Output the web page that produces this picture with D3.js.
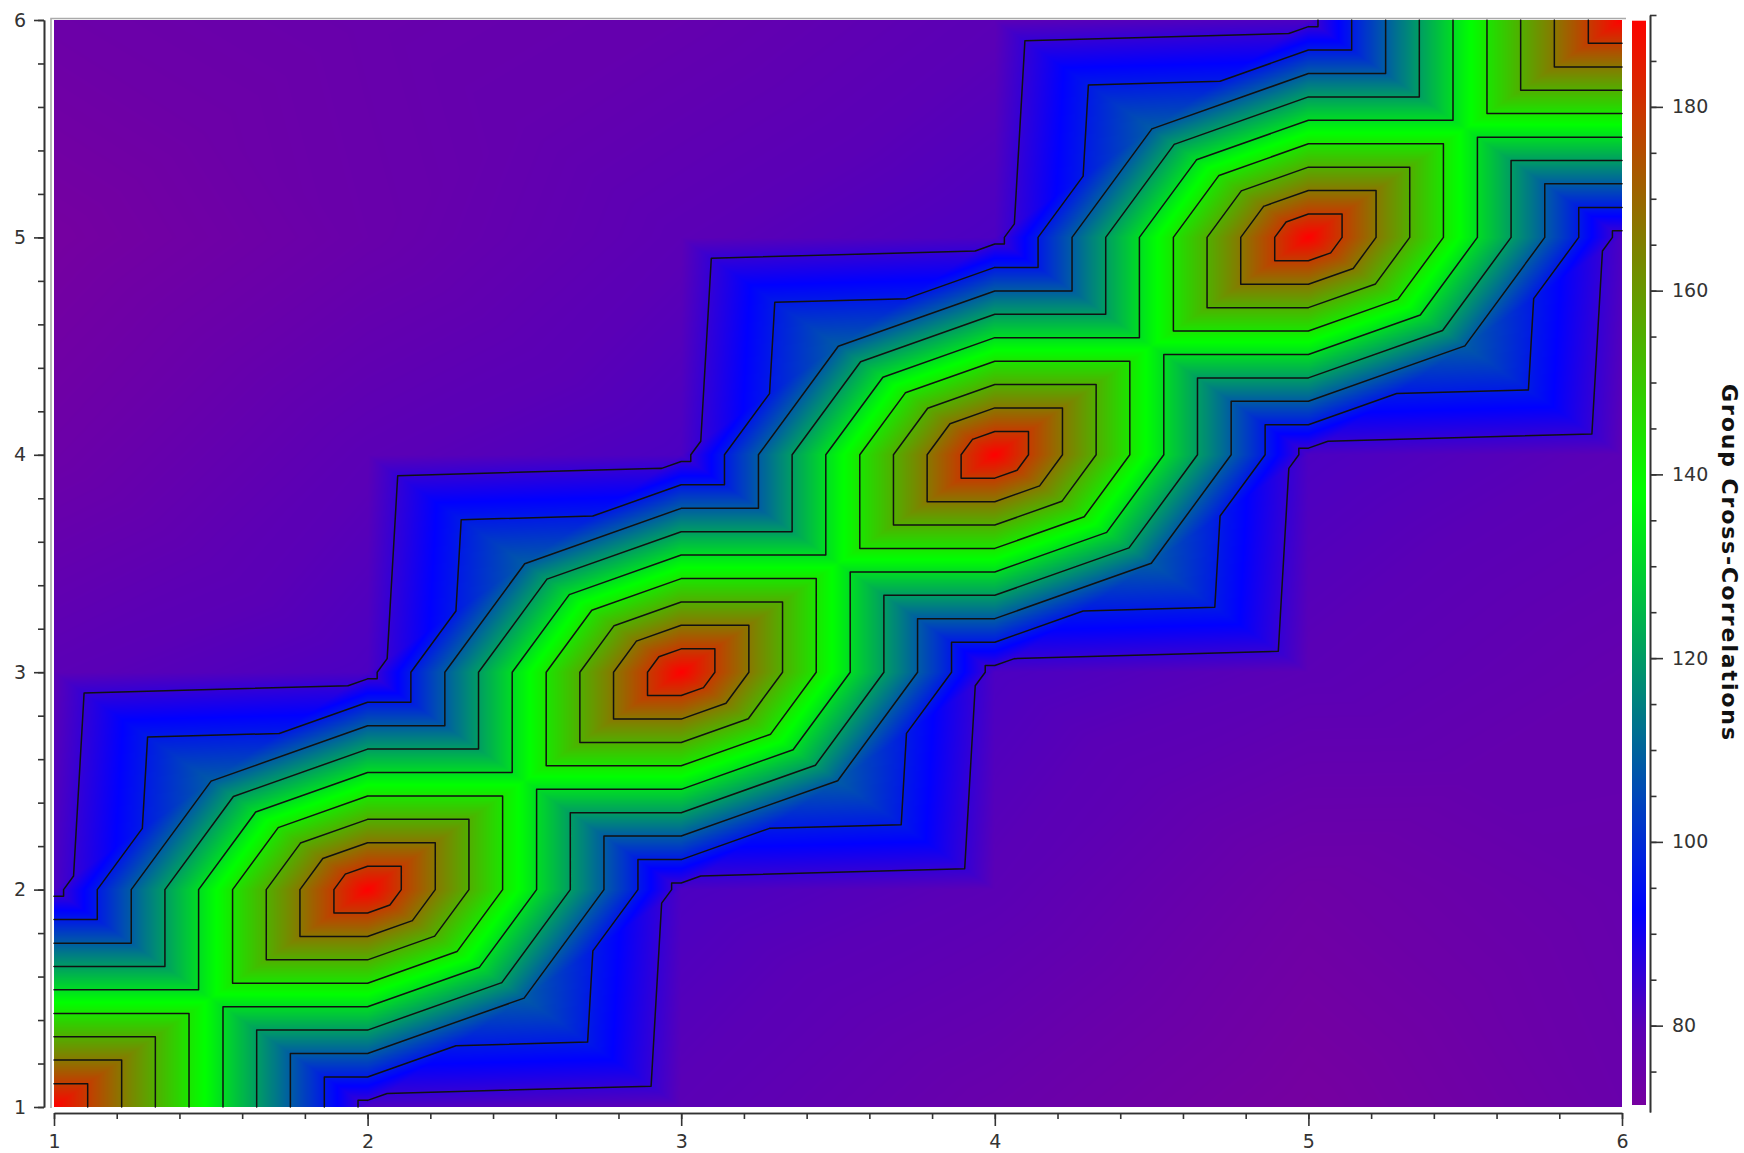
<!DOCTYPE html>
<html>
<head>
<meta charset="utf-8">
<script src="https://cdn.jsdelivr.net/npm/d3@7"></script>
<style>
  html, body { margin: 0; padding: 0; background: #fff; }
  svg { display: block; }
  text { font-family: "DejaVu Sans", sans-serif; }
</style>
</head>
<body>
<svg id="chart" width="1744" height="1153"></svg>
<script>
// Group indices along both axes
const groups = [1, 2, 3, 4, 5, 6];

// Cross-correlation values, one row per y group (y = 1 ... 6), listed by x group
const row1 = [190.0, 82.0, 79.8, 75.5, 71.3, 75.5];
const row2 = [82.0, 190.0, 82.0, 79.8, 74.0, 76.5];
const row3 = [79.8, 82.0, 190.0, 82.0, 79.8, 77.0];
const row4 = [74.5, 79.8, 82.0, 190.0, 82.0, 79.8];
const row5 = [71.5, 75.5, 79.8, 82.0, 190.0, 82.0];
const row6 = [74.5, 76.0, 77.0, 79.8, 82.0, 190.0];
const rows = [row1, row2, row3, row4, row5, row6];

// Contour levels
const contourLevels = [85.3, 96.9, 108.6, 120.2, 131.8, 143.5, 155.1, 166.7, 178.4];

// Axis ticks
const xTicks = [1, 2, 3, 4, 5, 6];
const yTicks = [1, 2, 3, 4, 5, 6];
const xMinorTicks = [1, 1.2, 1.4, 1.6, 1.8, 2, 2.2, 2.4, 2.6, 2.8, 3, 3.2, 3.4, 3.6, 3.8, 4,
                     4.2, 4.4, 4.6, 4.8, 5, 5.2, 5.4, 5.6, 5.8, 6];
const yMinorTicks = xMinorTicks;
const barTicks = [80, 100, 120, 140, 160, 180];
const barMinorTicks = [75, 80, 85, 90, 95, 100, 105, 110, 115, 120, 125, 130, 135, 140,
                       145, 150, 155, 160, 165, 170, 175, 180, 185, 190];

// Colour map stops
const colorValues = [71.3, 80, 92.4, 115, 138, 165, 190];
const colorHex = ["#7600a0", "#5a00b6", "#0000ff", "#008080", "#00ff00", "#808000", "#ff0000"];

const svg = d3.select("#chart");
const plot = { left: 54, right: 1622, top: 20, bottom: 1107 };

const x = d3.scaleLinear().domain([groups[0], groups[groups.length - 1]]).range([plot.left, plot.right]);
const y = d3.scaleLinear().domain([groups[0], groups[groups.length - 1]]).range([plot.bottom, plot.top]);
const color = d3.scaleLinear().domain(colorValues).range(colorHex)
  .interpolate(d3.interpolateRgb).clamp(true);

// Piecewise-linear field: every cell split into four triangles around its centre
function fieldAt(gx, gy) {
  const n = groups.length - 2;
  const i = Math.min(n, Math.max(0, Math.floor(gx - groups[0])));
  const j = Math.min(n, Math.max(0, Math.floor(gy - groups[0])));
  const u = gx - groups[i], v = gy - groups[j];
  const a = rows[j][i], b = rows[j][i + 1], d = rows[j + 1][i], e = rows[j + 1][i + 1];
  const c = (a + b + d + e) / 4;
  if (v <= u && v <= 1 - u) return a + (b - a) * u + (2 * c - a - b) * v;
  if (v >= u && v >= 1 - u) return d + (e - d) * u + (2 * c - d - e) * (1 - v);
  if (u <= v && u <= 1 - v) return a + (d - a) * v + (2 * c - a - d) * u;
  return b + (e - b) * v + (2 * c - b - e) * (1 - u);
}

// ---- heat map raster ----
const cw = plot.right - plot.left, ch = plot.bottom - plot.top;
const canvas = document.createElement("canvas");
canvas.width = cw; canvas.height = ch;
const ctx = canvas.getContext("2d");
const img = ctx.createImageData(cw, ch);
const lutN = 2048;
const vmin = colorValues[0], vmax = colorValues[colorValues.length - 1];
const lut = d3.range(lutN).map(k => d3.rgb(color(vmin + (vmax - vmin) * k / (lutN - 1))));
for (let py = 0; py < ch; py++) {
  const gy = y.invert(plot.top + py + 0.5);
  for (let px = 0; px < cw; px++) {
    const gx = x.invert(plot.left + px + 0.5);
    const val = fieldAt(gx, gy);
    let k = Math.round((val - vmin) / (vmax - vmin) * (lutN - 1));
    k = Math.max(0, Math.min(lutN - 1, k));
    const cc = lut[k];
    const o = (py * cw + px) * 4;
    img.data[o] = cc.r; img.data[o + 1] = cc.g; img.data[o + 2] = cc.b; img.data[o + 3] = 255;
  }
}
ctx.putImageData(img, 0, 0);
svg.append("image")
  .attr("x", plot.left).attr("y", plot.top)
  .attr("width", cw).attr("height", ch)
  .attr("preserveAspectRatio", "none")
  .attr("href", canvas.toDataURL());

// ---- contour lines (triangle-based) ----
const segs = [];
function triSegments(p, lvl) {
  const pts = [];
  for (let k = 0; k < 3; k++) {
    const A = p[k], B = p[(k + 1) % 3];
    const da = A[2] - lvl, db = B[2] - lvl;
    if ((da >= 0) !== (db >= 0)) {
      const t = da / (da - db);
      pts.push([A[0] + (B[0] - A[0]) * t, A[1] + (B[1] - A[1]) * t]);
    }
  }
  if (pts.length === 2) segs.push(pts);
}
for (let j = 0; j < groups.length - 1; j++) {
  for (let i = 0; i < groups.length - 1; i++) {
    const x0 = groups[i], x1 = groups[i + 1], y0 = groups[j], y1 = groups[j + 1];
    const a = rows[j][i], b = rows[j][i + 1], d = rows[j + 1][i], e = rows[j + 1][i + 1];
    const C = [(x0 + x1) / 2, (y0 + y1) / 2, (a + b + d + e) / 4];
    const P00 = [x0, y0, a], P10 = [x1, y0, b], P01 = [x0, y1, d], P11 = [x1, y1, e];
    const tris = [[C, P00, P10], [C, P10, P11], [C, P11, P01], [C, P01, P00]];
    contourLevels.forEach(lvl => tris.forEach(t => triSegments(t, lvl)));
  }
}
const pathStr = segs.map(s =>
  `M${x(s[0][0]).toFixed(2)},${y(s[0][1]).toFixed(2)}L${x(s[1][0]).toFixed(2)},${y(s[1][1]).toFixed(2)}`
).join("");
svg.append("path")
  .attr("d", pathStr)
  .attr("fill", "none")
  .attr("stroke", "#111")
  .attr("stroke-width", 1.5)
  .attr("stroke-linecap", "round")
  .attr("stroke-linejoin", "round");

// ---- plot frame ----
svg.append("path")
  .attr("d", `M51,${plot.bottom + 1}V18.5H${plot.right + 4}`)
  .attr("fill", "none").attr("stroke", "#aaaaaa").attr("stroke-width", 1.6);

// ---- axes ----
function styleAxis(g) {
  g.select(".domain").attr("stroke", "#333").attr("stroke-width", 1.6);
  g.selectAll(".tick line").attr("stroke", "#333").attr("stroke-width", 1.6);
  g.selectAll(".tick text").attr("fill", "#333").style("font-size", "19px")
    .style("font-family", "DejaVu Sans, sans-serif");
}

const xAxisY = 1113;
svg.append("g").attr("transform", `translate(0,${xAxisY})`)
  .call(d3.axisBottom(x).tickValues(xMinorTicks).tickSize(6).tickSizeOuter(0).tickFormat(""))
  .call(styleAxis);
svg.append("g").attr("transform", `translate(0,${xAxisY})`)
  .call(d3.axisBottom(x).tickValues(xTicks).tickSize(13).tickSizeOuter(0).tickPadding(9).tickFormat(d3.format("d")))
  .call(styleAxis);

const yAxisX = 44;
svg.append("g").attr("transform", `translate(${yAxisX},0)`)
  .call(d3.axisLeft(y).tickValues(yMinorTicks).tickSize(6).tickSizeOuter(0).tickFormat(""))
  .call(styleAxis);
svg.append("g").attr("transform", `translate(${yAxisX},0)`)
  .call(d3.axisLeft(y).tickValues(yTicks).tickSize(10).tickSizeOuter(0).tickPadding(8).tickFormat(d3.format("d")))
  .call(styleAxis);

// ---- colour bar ----
const bar = { left: 1632, width: 14, top: 20.7, bottom: 1105, axisX: 1650 };
const barScale = d3.scaleLinear().domain([70.6, 190]).range([1112, 15]);
const defs = svg.append("defs");
const grad = defs.append("linearGradient").attr("id", "barGrad")
  .attr("x1", 0).attr("y1", 1).attr("x2", 0).attr("y2", 0);
const vBot = barScale.invert(bar.bottom), vTop = barScale.invert(bar.top);
d3.range(0, 1.0001, 0.01).forEach(t => {
  grad.append("stop").attr("offset", t).attr("stop-color", color(vBot + (vTop - vBot) * t));
});
svg.append("rect")
  .attr("x", bar.left).attr("y", bar.top)
  .attr("width", bar.width).attr("height", bar.bottom - bar.top)
  .attr("fill", "url(#barGrad)");

svg.append("g").attr("transform", `translate(${bar.axisX},0)`)
  .call(d3.axisRight(barScale).tickValues(barMinorTicks).tickSize(6.5).tickSizeOuter(0).tickFormat(""))
  .call(styleAxis);
svg.append("g").attr("transform", `translate(${bar.axisX},0)`)
  .call(d3.axisRight(barScale).tickValues(barTicks).tickSize(13).tickSizeOuter(0).tickPadding(9).tickFormat(d3.format("d")))
  .call(styleAxis);

svg.append("text")
  .attr("transform", "translate(1722,562) rotate(90)")
  .attr("text-anchor", "middle")
  .attr("textLength", 356)
  .attr("lengthAdjust", "spacing")
  .style("font-size", "22px")
  .style("font-weight", "bold")
  .attr("fill", "#111")
  .text("Group Cross-Correlations");
</script>
</body>
</html>
